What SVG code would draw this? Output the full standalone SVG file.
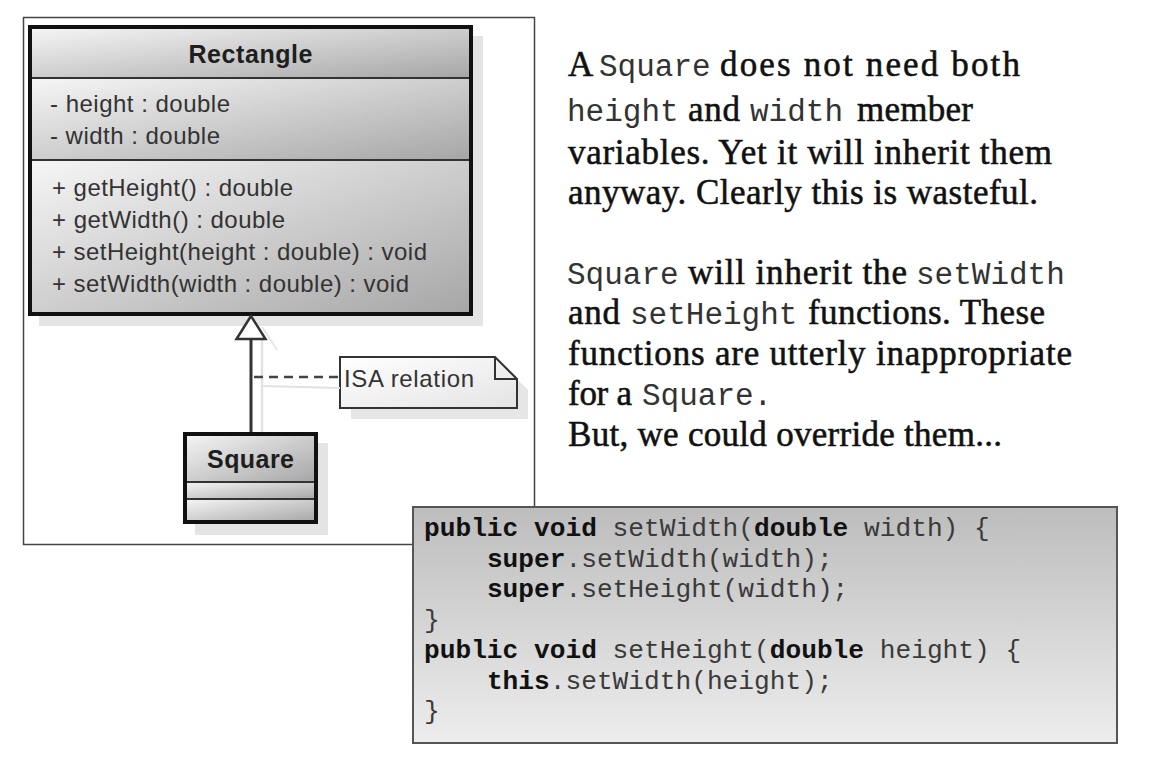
<svg xmlns="http://www.w3.org/2000/svg" width="1159" height="763" viewBox="0 0 1159 763">
<defs>
<linearGradient id="uml" x1="0" y1="0" x2="1" y2="1">
<stop offset="0" stop-color="#f6f6f6"/>
<stop offset="1" stop-color="#a6a6a6"/>
</linearGradient>
<linearGradient id="noteg" x1="0" y1="0" x2="1" y2="1">
<stop offset="0" stop-color="#ffffff"/>
<stop offset="1" stop-color="#e4e4e4"/>
</linearGradient>
<linearGradient id="code" x1="0" y1="0" x2="0" y2="1">
<stop offset="0" stop-color="#bdbdbd"/>
<stop offset="1" stop-color="#ededed"/>
</linearGradient>
<style>
.box{fill:none;stroke:#111;stroke-width:4}
.sep{stroke:#333;stroke-width:2}
.shadow{fill:#e4e4e4}
.uml{font-family:"Liberation Sans",Arial,sans-serif;font-size:24px;fill:#333}
.umlb{font-family:"Liberation Sans",Arial,sans-serif;font-size:25px;font-weight:bold;fill:#1e1e1e}
.ser{font-family:"Liberation Serif","Times New Roman",serif;font-size:35px;fill:#111;stroke:#111;stroke-width:0.55}
.mono{font-family:"Liberation Mono","Courier New",monospace;font-size:31px;fill:#333}
.code{font-family:"Liberation Mono","Courier New",monospace;font-size:26.2px;fill:#3a3a3a;white-space:pre}
.kw{font-weight:bold;fill:#111}
</style>
</defs>
<rect width="1159" height="763" fill="#ffffff"/>

<g id="frame">
<rect x="23.5" y="17.5" width="511" height="527" fill="#ffffff" stroke="#444" stroke-width="1.5"/>
</g>

<g id="node-rectangle">
<rect class="shadow" x="39" y="36" width="444" height="290"/>
<rect x="30" y="27" width="441" height="51" fill="url(#uml)"/>
<rect x="30" y="78" width="441" height="82" fill="url(#uml)"/>
<rect x="30" y="160" width="441" height="154" fill="url(#uml)"/>
<line class="sep" x1="30" y1="78" x2="471" y2="78"/>
<line class="sep" x1="30" y1="160" x2="471" y2="160"/>
<rect class="box" x="30" y="27" width="441" height="287"/>
<text class="umlb" x="250.5" y="63" text-anchor="middle" textLength="124">Rectangle</text>
<text class="uml" x="50" y="112" textLength="180">- height : double</text>
<text class="uml" x="50" y="144" textLength="170">- width : double</text>
<text class="uml" x="52" y="196" textLength="241">+ getHeight() : double</text>
<text class="uml" x="52" y="228" textLength="233">+ getWidth() : double</text>
<text class="uml" x="52" y="260" textLength="375">+ setHeight(height : double) : void</text>
<text class="uml" x="52" y="292" textLength="357">+ setWidth(width : double) : void</text>
</g>

<g id="node-square">
<rect class="shadow" x="195" y="443" width="133" height="92"/>
<rect x="185" y="434" width="131" height="48" fill="url(#uml)"/>
<rect x="185" y="482" width="131" height="17" fill="url(#uml)"/>
<rect x="185" y="499" width="131" height="23" fill="url(#uml)"/>
<line class="sep" x1="185" y1="482" x2="316" y2="482"/>
<line class="sep" x1="185" y1="499" x2="316" y2="499"/>
<rect class="box" x="185" y="434" width="131" height="88"/>
<text class="umlb" x="250.5" y="468" text-anchor="middle" textLength="87">Square</text>
</g>

<g id="note-isa">
<path d="M351,368 H506 L528,390 V419 H351 Z" fill="#e6e6e6"/>
<path d="M340,357 H495 L517,379 V408 H340 Z" fill="url(#noteg)" stroke="#333" stroke-width="2"/>
<path d="M495,357 V379 H517" fill="none" stroke="#333" stroke-width="2"/>
<text class="uml" x="344" y="387" textLength="130">ISA relation</text>
</g>

<g id="connectors">
<line x1="262" y1="339" x2="262" y2="432" stroke="#e2e2e2" stroke-width="2.5"/>
<polyline points="262,327 277,350" fill="none" stroke="#e6e6e6" stroke-width="2"/>
<line x1="262" y1="386" x2="340" y2="388" stroke="#e2e2e2" stroke-width="2"/>
<line x1="251" y1="339" x2="251" y2="432" stroke="#333" stroke-width="3"/>
<polygon points="251,316 236.5,339 265.5,339" fill="#ffffff" stroke="#333" stroke-width="2.5" stroke-linejoin="miter"/>
<line x1="254" y1="377" x2="340" y2="377" stroke="#444" stroke-width="2.5" stroke-dasharray="9 6"/>
</g>

<g id="explanation">
<text y="76"><tspan class="ser" x="568">A</tspan><tspan class="mono" x="599">Square</tspan><tspan class="ser" x="720" textLength="300">does not need both</tspan></text>
<text y="121"><tspan class="mono" x="567">height</tspan><tspan class="ser" x="688" textLength="52">and</tspan><tspan class="mono" x="750">width</tspan><tspan class="ser" x="857" textLength="116">member</tspan></text>
<text class="ser" x="568" y="164" textLength="484">variables. Yet it will inherit them</text>
<text class="ser" x="568" y="204" textLength="470">anyway. Clearly this is wasteful.</text>
<text y="284"><tspan class="mono" x="567">Square</tspan><tspan class="ser" x="688" textLength="219">will inherit the</tspan><tspan class="mono" x="916">setWidth</tspan></text>
<text y="324"><tspan class="ser" x="568" textLength="52">and</tspan><tspan class="mono" x="630">setHeight</tspan><tspan class="ser" x="808" textLength="237">functions. These</tspan></text>
<text class="ser" x="568" y="365" textLength="504">functions are utterly inappropriate</text>
<text y="405"><tspan class="ser" x="568" textLength="64">for a</tspan><tspan class="mono" x="642">Square.</tspan></text>
<text class="ser" x="568" y="446" textLength="434">But, we could override them...</text>
</g>

<g id="code-box">
<rect x="413" y="507" width="704" height="236" fill="url(#code)" stroke="#555" stroke-width="2"/>
<text class="code" x="424" y="536"><tspan class="kw">public void</tspan> setWidth(<tspan class="kw">double</tspan> width) {</text>
<text class="code" x="424" y="566.5">    <tspan class="kw">super</tspan>.setWidth(width);</text>
<text class="code" x="424" y="597">    <tspan class="kw">super</tspan>.setHeight(width);</text>
<text class="code" x="424" y="627.5">}</text>
<text class="code" x="424" y="658"><tspan class="kw">public void</tspan> setHeight(<tspan class="kw">double</tspan> height) {</text>
<text class="code" x="424" y="688.5">    <tspan class="kw">this</tspan>.setWidth(height);</text>
<text class="code" x="424" y="719">}</text>
</g>
</svg>
